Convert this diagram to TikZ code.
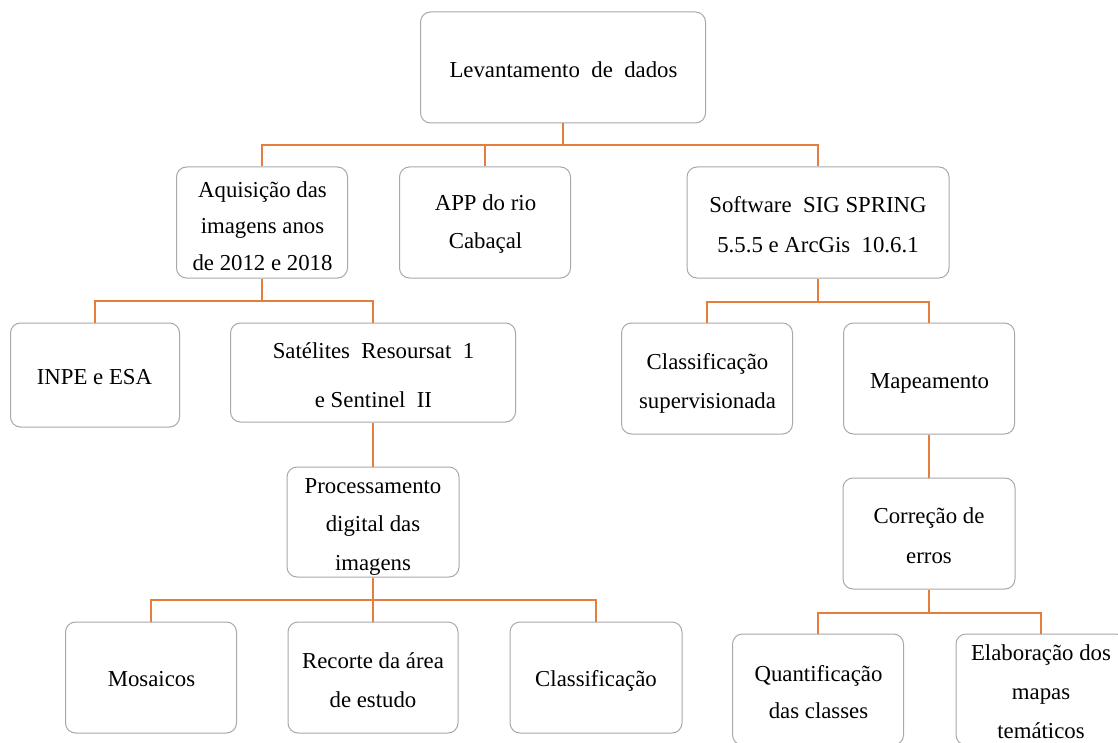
\documentclass[tikz,border=0pt]{standalone}
\usepackage{fontspec}
\setmainfont{Liberation Serif}
\newcommand{\myfs}[1]{\fontsize{22.8}{#1}\selectfont}
\definecolor{boxgray}{RGB}{168,168,168}
\definecolor{connor}{RGB}{229,125,60}
\tikzset{
  box/.style={draw=boxgray, line width=1pt, rounded corners=10pt, fill=white, inner sep=0pt},
  txt/.style={inner sep=0pt, align=center, font=\myfs{39}},
  conn/.style={draw=connor, line width=1.8pt},
}
\begin{document}
\begin{tikzpicture}[x=1pt,y=-1pt]
\useasboundingbox (0,0) rectangle (1118,743);
\clip (0,0) rectangle (1118,743);
\coordinate (j1) at (563,145);
\coordinate (j2) at (262,301);
\coordinate (j4) at (818,302);
\coordinate (j9) at (373,600);
\coordinate (j13) at (929,613);
% boxes
\node[box, minimum width=285, minimum height=111] (b1) at (563,67.5) {};
\node[box, minimum width=171, minimum height=111] (b2) at (262,222.5) {};
\node[box, minimum width=171, minimum height=111] (b3) at (485,222.5) {};
\node[box, minimum width=262, minimum height=111] (b4) at (818,222.5) {};
\node[box, minimum width=169, minimum height=104] (b5) at (95,375) {};
\node[box, minimum width=285, minimum height=99] (b6) at (373,372.5) {};
\node[box, minimum width=171, minimum height=111] (b7) at (707,378.5) {};
\node[box, minimum width=171, minimum height=111] (b8) at (929,378.5) {};
\node[box, minimum width=172, minimum height=110] (b9) at (373,522) {};
\node[box, minimum width=171, minimum height=111] (b10) at (151,677.5) {};
\node[box, minimum width=170, minimum height=111] (b11) at (373,677.5) {};
\node[box, minimum width=172, minimum height=111] (b12) at (596,677.5) {};
\node[box, minimum width=172, minimum height=111] (b13) at (929,533.5) {};
\node[box, minimum width=171, minimum height=111] (b14) at (818,689.5) {};
\node[box, minimum width=170, minimum height=111] (b15) at (1041,689.5) {};
% connectors
\draw[conn] (b1.south) -- (j1);
\draw[conn] (j1) -| (b2.north);
\draw[conn] (j1) -| (b3.north);
\draw[conn] (j1) -| (b4.north);
\draw[conn] (b2.south) -- (j2);
\draw[conn] (j2) -| (b5.north);
\draw[conn] (j2) -| (b6.north);
\draw[conn] (b4.south) -- (j4);
\draw[conn] (j4) -| (b7.north);
\draw[conn] (j4) -| (b8.north);
\draw[conn] (b6.south) -- (b9.north);
\draw[conn] (b9.south) -- (j9);
\draw[conn] (j9) -| (b10.north);
\draw[conn] (j9) -| (b11.north);
\draw[conn] (j9) -| (b12.north);
\draw[conn] (b8.south) -- (b13.north);
\draw[conn] (b13.south) -- (j13);
\draw[conn] (j13) -| (b14.north);
\draw[conn] (j13) -| (b15.north);
% texts
\node[txt] (t1) at (563.5,70.2) {\strut Levantamento\ \ de\ \ dados};
\node[txt, font=\myfs{36.5}] (t2) at (262.5,226.2) {\strut Aquisição das\\\strut imagens anos\\\strut de 2012 e 2018};
\node[txt, font=\myfs{38}] (t3) at (485.5,221.4) {\strut APP do rio\\\strut Cabaçal};
\node[txt, font=\myfs{40}] (t4) at (818,225) {\strut Software\ \ SIG SPRING\\\strut 5.5.5 e ArcGis\ \ 10.6.1};
\node[txt] (t5) at (94.5,377) {\strut INPE e ESA};
\node[txt, font=\myfs{49}] (t6) at (373.5,372.7) {\strut Satélites\ \ Resoursat\ \ 1\\\strut e Sentinel\ \ II};
\node[txt] (t7) at (707.5,380.7) {\strut Classificação\\\strut supervisionada};
\node[txt] (t8) at (929.5,381) {\strut Mapeamento};
\node[txt, font=\myfs{38.5}] (t9) at (373,523.8) {\strut Processamento\\\strut digital das\\\strut imagens};
\node[txt] (t10) at (151.5,679) {\strut Mosaicos};
\node[txt] (t11) at (373,679.7) {\strut Recorte da área\\\strut de estudo};
\node[txt] (t12) at (596,679) {\strut Classificação};
\node[txt, font=\myfs{40}] (t13) at (929,535) {\strut Correção de\\\strut erros};
\node[txt, font=\myfs{37}] (t14) at (818.5,692.9) {\strut Quantificação\\\strut das classes};
\node[txt] (t15) at (1041,691.2) {\strut Elaboração dos\\\strut mapas\\\strut temáticos};
\end{tikzpicture}
\end{document}
